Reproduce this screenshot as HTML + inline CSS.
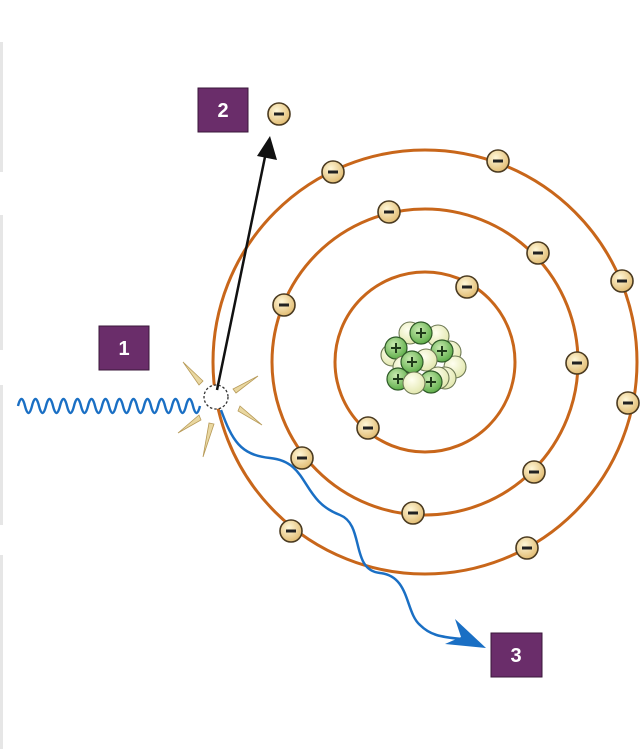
<!DOCTYPE html>
<html><head><style>html,body{margin:0;padding:0;background:#fff;}svg{display:block}</style></head>
<body>
<svg width="643" height="749" viewBox="0 0 643 749" xmlns="http://www.w3.org/2000/svg">
<defs>
<radialGradient id="e" cx="40%" cy="35%" r="65%"><stop offset="0" stop-color="#fff7d8"/><stop offset="1" stop-color="#e2bd74"/></radialGradient>
<radialGradient id="p" cx="40%" cy="35%" r="65%"><stop offset="0" stop-color="#c9eab0"/><stop offset="1" stop-color="#5fae4a"/></radialGradient>
<radialGradient id="n" cx="40%" cy="35%" r="65%"><stop offset="0" stop-color="#fffff0"/><stop offset="1" stop-color="#e3e8b0"/></radialGradient>
<g id="el"><circle r="11" fill="url(#e)" stroke="#4a3a20" stroke-width="1.6"/><rect x="-5" y="-1.5" width="10" height="3" fill="#222"/></g>
<g id="pr"><circle r="11" fill="url(#p)" stroke="#2f5a28" stroke-width="1.2"/><path d="M-5,0H5M0,-5V5" stroke="#1f3a1a" stroke-width="2"/></g>
<g id="ne"><circle r="11" fill="url(#n)" stroke="#6f7a55" stroke-width="1.1"/></g>
</defs>
<rect x="0" y="42" width="3" height="130" fill="#e6e6e6"/>
<rect x="0" y="215" width="3" height="135" fill="#e6e6e6"/>
<rect x="0" y="385" width="3" height="140" fill="#e6e6e6"/>
<rect x="0" y="555" width="3" height="194" fill="#e6e6e6"/>

<g fill="none" stroke="#c8661a" stroke-width="3">
<circle cx="425" cy="362" r="212"/>
<circle cx="425" cy="362" r="153"/>
<circle cx="425" cy="362" r="90"/>
</g>

<use href="#ne" x="410" y="333"/><use href="#ne" x="438" y="336"/><use href="#ne" x="450" y="352"/><use href="#ne" x="392" y="355"/><use href="#ne" x="455" y="367"/><use href="#ne" x="445" y="378"/>
<use href="#pr" x="421" y="333"/><use href="#pr" x="396" y="348"/><use href="#pr" x="442" y="351"/>
<use href="#ne" x="426" y="360"/><use href="#ne" x="404" y="367"/>
<use href="#pr" x="412" y="362"/><use href="#pr" x="398" y="379"/><use href="#ne" x="438" y="378"/><use href="#pr" x="431" y="382"/><use href="#ne" x="414" y="383"/>

<use href="#el" x="279" y="114"/><use href="#el" x="333" y="172"/><use href="#el" x="498" y="161"/><use href="#el" x="622" y="281"/><use href="#el" x="628" y="403"/><use href="#el" x="527" y="548"/><use href="#el" x="291" y="531"/>
<use href="#el" x="389" y="212"/><use href="#el" x="538" y="253"/><use href="#el" x="577" y="363"/><use href="#el" x="534" y="472"/><use href="#el" x="413" y="513"/><use href="#el" x="302" y="458"/><use href="#el" x="284" y="305"/>
<use href="#el" x="467" y="287"/><use href="#el" x="368" y="428"/>

<g fill="#e9d7a0" stroke="#b79a58" stroke-width="0.8">
<path d="M183,362 L203,381 L199,385 Z"/>
<path d="M258,376 L236,393 L233,389 Z"/>
<path d="M262,425 L240,406 L238,411 Z"/>
<path d="M178,433 L199,415 L201,420 Z"/>
<path d="M203,457 L209,423 L214,424 Z"/>
</g>
<circle cx="216" cy="397" r="12" fill="#fff" stroke="#333" stroke-width="1.3" stroke-dasharray="2.5,2"/>

<path d="M18,406 q3.5,-14 7,0 t7,0 t7,0 t7,0 t7,0 t7,0 t7,0 t7,0 t7,0 t7,0 t7,0 t7,0 t7,0 t7,0 t7,0 t7,0 t7,0 t7,0 t7,0 t7,0 t7,0 t7,0 t7,0 t7,0 t7,0 t7,0" fill="none" stroke="#1a6fc4" stroke-width="2.4"/>

<line x1="217" y1="390" x2="266" y2="152" stroke="#111" stroke-width="2.5"/>
<path d="M270,136 L277,160 L257,156 Z" fill="#111"/>

<path d="M221,410 C232,440 240,455 270,458 C310,462 300,500 340,515 C365,525 350,570 380,573 C410,576 405,612 420,625 C430,635 440,637 462,639" fill="none" stroke="#1a6fc4" stroke-width="2.5"/>
<path d="M486,648 L455,619 L461,637 L445,644 Z" fill="#1a6fc4"/>

<g font-family="Liberation Sans, sans-serif" font-weight="bold" font-size="20" fill="#fff" text-anchor="middle">
<rect x="99" y="326" width="50" height="44" fill="#6a2d6a" stroke="#3a173a"/><text x="124" y="355">1</text>
<rect x="198" y="88" width="50" height="44" fill="#6a2d6a" stroke="#3a173a"/><text x="223" y="117">2</text>
<rect x="491" y="633" width="51" height="44" fill="#6a2d6a" stroke="#3a173a"/><text x="516" y="662">3</text>
</g>
</svg>
</body></html>
